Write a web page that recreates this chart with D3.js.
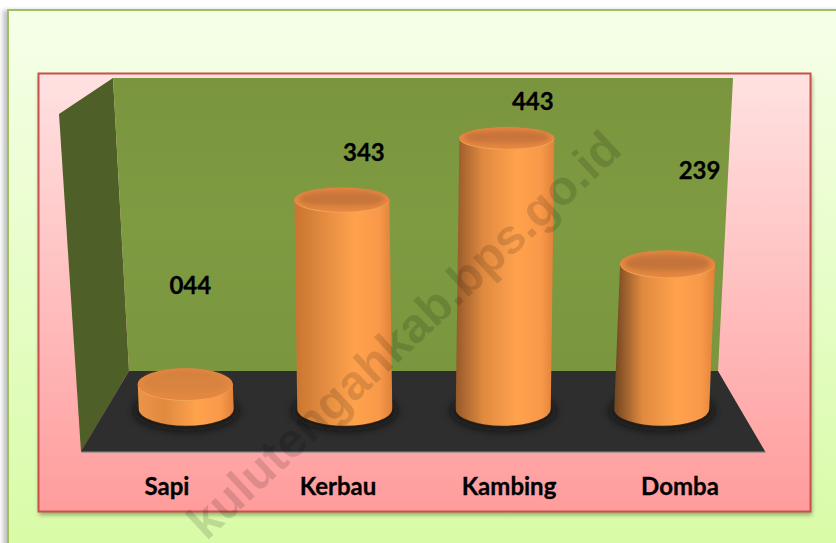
<!DOCTYPE html>
<html><head><meta charset="utf-8">
<script src="https://cdnjs.cloudflare.com/ajax/libs/d3/7.8.5/d3.min.js"></script>
<style>html,body{margin:0;padding:0;background:#fff;overflow:hidden}svg{display:block}</style>
</head><body><svg id="c" width="836" height="543"></svg>
<script>
const categories = ["Sapi","Kerbau","Kambing","Domba"];
const values = [44,343,443,239];
const valueLabels = ["044","343","443","239"];
const watermarkText = "kulutengahkab.bps.go.id";

const W=836,H=543;
const svg=d3.select("#c");
const defs=svg.append("defs");
function grad(id,stops,x1=0,y1=0,x2=0,y2=1){
  const g=defs.append("linearGradient").attr("id",id).attr("x1",x1).attr("y1",y1).attr("x2",x2).attr("y2",y2);
  stops.forEach(s=>g.append("stop").attr("offset",s[0]).attr("stop-color",s[1]));
  return g;
}
grad("outerBg",[[0,"#f6ffe9"],[1,"#d8fba6"]]);
grad("innerBg",[[0,"#ffe2e2"],[1,"#ff9c9c"]]);
grad("backWall",[[0,"#7a953d"],[0.5,"#7f9b42"],[1,"#7a963e"]]);
const blur=(id,s)=>defs.append("filter").attr("id",id).attr("x","-40%").attr("y","-40%").attr("width","180%").attr("height","180%")
  .append("feGaussianBlur").attr("stdDeviation",s);
blur("b2",2); blur("b5",4); blur("b1",2); blur("bs",.6);

// panels
svg.append("rect").attr("x",3).attr("y",10).attr("width",W).attr("height",H).attr("fill","#888").attr("opacity",.5).attr("filter","url(#b2)");
svg.append("rect").attr("x",8).attr("y",10).attr("width",W).attr("height",H).attr("fill","url(#outerBg)").attr("stroke","#9fbf60").attr("stroke-width",2);
svg.append("rect").attr("x",39).attr("y",76).attr("width",773).attr("height",439).attr("fill","#556b30").attr("opacity",.55).attr("filter","url(#b2)");
svg.append("rect").attr("x",38.5).attr("y",73.5).attr("width",772).attr("height",438).attr("fill","url(#innerBg)").attr("stroke","#c9504f").attr("stroke-width",2);

// walls
const poly=(pts,fill)=>svg.append("polygon").attr("points",pts.map(p=>p.join(",")).join(" ")).attr("fill",fill);
poly([[59,114],[113,78],[129,371],[81,452]],"#4e5f27");
poly([[113,78],[733,78],[718,371],[129,371]],"url(#backWall)");
poly([[81,452.8],[129,372],[718,372],[766,452.8]],"#8a8a8a");
poly([[81,451.5],[129,371],[718,371],[765,451.5]],"#2e2e2e");

// scales
const x=d3.scaleBand().domain(categories).range([107,741]);
const y=d3.scaleLinear().domain([0,500]).range([412,103.5]);
const labelX=d3.scalePoint().domain(categories).range([167,680]);
const baseY=409, rx=47.5, vanishX=425, lean=1.7e-4;
const ryAt=py=>8.3+0.0205*py;
const labelDx=[5,22,26,32], labelDy=[99,48,37,94];
const darkLeft=["#ec9448","#c9742f","#96592a","#6f4520"];
const topFace=["#d8843f","#c8743a","#c8733a","#c4733a"];

const data=categories.map((c,i)=>{
  const bx=x(c)+x.bandwidth()/2, ty=y(values[i]);
  const tx=bx+(bx-vanishX)*(baseY-ty)*lean;
  return {c,i,bx,tx,ty,v:values[i],lab:valueLabels[i]};
});
data.forEach(d=>{
  const g=defs.append("linearGradient").attr("id","body"+d.i).attr("x1",0).attr("x2",1).attr("y1",0).attr("y2",0);
  [[0,darkLeft[d.i]],[0.28,"#e08a40"],[0.62,"#ffa24c"],[0.86,"#f9994a"],[1,"#df8238"]].forEach(s=>g.append("stop").attr("offset",s[0]).attr("stop-color",s[1]));
  const t=defs.append("linearGradient").attr("id","top"+d.i).attr("x1",0).attr("x2",0).attr("y1",0).attr("y2",1);
  [[0,"#d67e3c"],[.35,topFace[d.i]],[.7,topFace[d.i]],[1,"#e2883f"]].forEach(s=>t.append("stop").attr("offset",s[0]).attr("stop-color",s[1]));
});

const bars=svg.selectAll("g.bar").data(data).join("g").attr("class","bar");
const by=ryAt(baseY);
bars.append("ellipse").attr("cx",d=>d.bx).attr("cy",baseY+2).attr("rx",rx+5).attr("ry",by+3).attr("fill","#0c0c0c").attr("opacity",.75).attr("filter","url(#b5)");
bars.append("path").attr("fill","#4a2a0c").attr("filter","url(#bs)").attr("d",d=>
  `M${d.bx-rx},${baseY}A${rx},${by} 0 0 0 ${d.bx+rx},${baseY}Z`).attr("transform","translate(0,.8)");
const inner=bars.append("g").attr("filter","url(#bs)");
inner.append("path").attr("fill",d=>`url(#body${d.i})`).attr("d",d=>
  `M${d.bx-rx},${baseY}A${rx},${by} 0 0 0 ${d.bx+rx},${baseY}L${d.tx+rx},${d.ty}L${d.tx-rx},${d.ty}Z`);
inner.append("ellipse").attr("cx",d=>d.tx).attr("cy",d=>d.ty).attr("rx",rx).attr("ry",d=>ryAt(d.ty)).attr("fill","#f2a55a");
inner.append("ellipse").attr("cx",d=>d.tx).attr("cy",d=>d.ty-.7).attr("rx",rx).attr("ry",d=>ryAt(d.ty)-.3).attr("fill","#e5873f");
bars.append("ellipse").attr("cx",d=>d.tx).attr("cy",d=>d.ty-1.5).attr("rx",rx-5).attr("ry",d=>ryAt(d.ty)-3).attr("fill",d=>`url(#top${d.i})`).attr("filter","url(#b1)");

// value labels
const font="Lato, Carlito, sans-serif";
const txt=sel=>sel.attr("text-anchor","middle").attr("font-family",font).attr("font-weight",700).attr("font-size",24).attr("fill","#000").attr("stroke","#000").attr("stroke-width",.3);
bars.append("text").attr("x",d=>d.tx+labelDx[d.i]).attr("y",d=>d.ty-labelDy[d.i]+8.5).call(txt).text(d=>d.lab);
// category labels
svg.selectAll("text.cat").data(categories).join("text").attr("class","cat")
  .attr("x",c=>labelX(c)).attr("y",495).call(txt).text(c=>c);

// watermark
svg.append("text").attr("transform","translate(624,152) rotate(-43)").attr("text-anchor","end")
  .attr("font-family","Liberation Sans, Arial, sans-serif").attr("font-weight",700).attr("font-size",48.5)
  .attr("fill","#000").attr("opacity",.13).text(watermarkText);
</script></body></html>
